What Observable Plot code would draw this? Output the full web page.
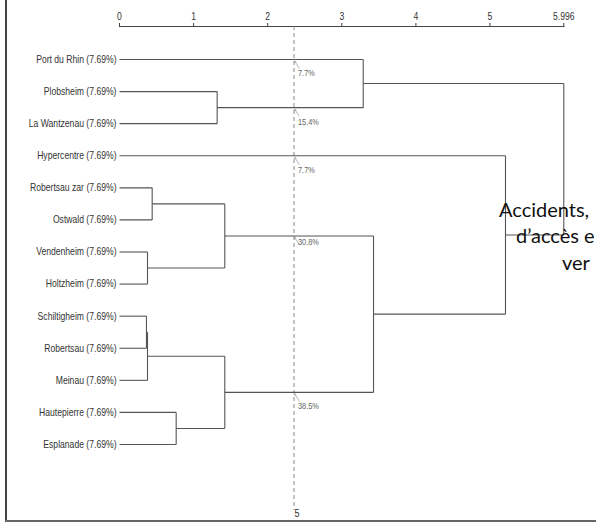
<!DOCTYPE html>
<html><head><meta charset="utf-8">
<script src="https://cdn.jsdelivr.net/npm/d3@7"></script>
<script src="https://cdn.jsdelivr.net/npm/@observablehq/plot@0.6"></script>
<style>
body{margin:0;background:#fff;}
#wrap{position:relative;width:596px;height:522px;overflow:hidden;background:#fff;}
#chart{position:absolute;left:0;top:0;}
#frameL{position:absolute;left:5px;top:0;width:2px;height:522px;background:#444;}
#frameB{position:absolute;left:5px;top:520px;width:591px;height:2px;background:#666;}
.ov{position:absolute;font-family:Lato,"Open Sans",sans-serif;font-size:20px;color:#111;white-space:nowrap;line-height:20px;}
</style></head><body>
<div id="wrap"><div id="chart"></div><div id="frameL"></div><div id="frameB"></div>
<div class="ov" style="left:499px;top:199px">Accidents,</div>
<div class="ov" style="left:516px;top:225px">d’accès e</div>
<div class="ov" style="left:562px;top:252px">ver</div>
</div>
<script>
// Leaves (top to bottom)
const leaves = ["Port du Rhin (7.69%)","Plobsheim (7.69%)","La Wantzenau (7.69%)","Hypercentre (7.69%)",
  "Robertsau zar (7.69%)","Ostwald (7.69%)","Vendenheim (7.69%)","Holtzheim (7.69%)",
  "Schiltigheim (7.69%)","Robertsau (7.69%)","Meinau (7.69%)","Hautepierre (7.69%)","Esplanade (7.69%)"];
// Merges: node id = 13 + index
const mergeLeft   = [1, 4, 6, 8, 16, 11, 14, 17, 0, 19, 3, 21];
const mergeRight  = [2, 5, 7, 9, 10, 12, 15, 18, 13, 20, 22, 23];
const mergeHeight = [1.318, 0.441, 0.378, 0.364, 0.378, 0.765, 1.421, 1.421, 3.289, 3.428, 5.209, 5.996];
// Axis ticks
const tickValues = [0, 1, 2, 3, 4, 5, 5.996];
// Truncation level and cluster annotations
const cutLevel = 2.355;
const clusterCount = 5;
const clusterNodes  = [0, 13, 3, 19, 20];
const clusterLabels = ["7.7%", "15.4%", "7.7%", "30.8%", "38.5%"];

// Build node positions
const nodeY = leaves.map((_, i) => i);
const nodeH = leaves.map(() => 0);
mergeLeft.forEach((l, k) => {
  const r = mergeRight[k];
  nodeY.push((nodeY[l] + nodeY[r]) / 2);
  nodeH.push(mergeHeight[k]);
});
const segs = [];
mergeLeft.forEach((l, k) => {
  const r = mergeRight[k], h = mergeHeight[k];
  segs.push({x1: h, x2: h, y1: nodeY[l], y2: nodeY[r]});
  segs.push({x1: nodeH[l], x2: h, y1: nodeY[l], y2: nodeY[l]});
  segs.push({x1: nodeH[r], x2: h, y1: nodeY[r], y2: nodeY[r]});
});
const leafData = leaves.map((name, i) => ({name, y: i}));
const annot = clusterNodes.map((n, i) => ({label: clusterLabels[i], y: nodeY[n], near: clusterLabels[i] === "30.8%"}));

const font = "'Liberation Sans',Arial,sans-serif";
const chart = Plot.plot({
  width: 596, height: 522,
  marginLeft: 119, marginRight: 32.7, marginTop: 26, marginBottom: 12,
  style: {fontFamily: font, fontSize: "10.5px", color: "#333", background: "transparent"},
  x: {domain: [0, 5.996], range: [119, 563.3]},
  y: {domain: [0, 12], range: [59, 444], axis: null},
  marks: [
    Plot.frame({anchor: "top", stroke: "#444", strokeWidth: 1.2}),
    Plot.axisX({anchor: "top", ticks: tickValues, tickSize: 4, tickPadding: 3, label: null,
      tickFormat: d => String(d), stroke: "#444"}),
    Plot.ruleX([cutLevel], {stroke: "#888", strokeDasharray: "4,3", strokeWidth: 1}),
    Plot.link(segs, {x1: "x1", x2: "x2", y1: "y1", y2: "y2", stroke: "#555", strokeWidth: 1.1}),
    Plot.text(leafData, {x: 0, y: "y", text: "name", textAnchor: "end", dx: -3,
      fontFamily: font, fontSize: 10.5, fill: "#333"}),
    Plot.arrow(annot, {x1: cutLevel + 0.07, y1: d => d.y + 0.27, x2: cutLevel + 0.01, y2: d => d.y + 0.05,
      stroke: "#999", strokeWidth: 0.7, headLength: 3}),
    Plot.text(annot.filter(d => !d.near), {x: cutLevel, y: "y", text: "label", textAnchor: "start", dx: 4, dy: 14,
      fontFamily: font, fontSize: 9, fill: "#666"}),
    Plot.text(annot.filter(d => d.near), {x: cutLevel, y: "y", text: "label", textAnchor: "start", dx: 4, dy: 6,
      fontFamily: font, fontSize: 9, fill: "#666"}),
    Plot.text([String(clusterCount)], {x: cutLevel, frameAnchor: "bottom", text: d => d, dx: 3, dy: 6,
      fontFamily: font, fontSize: 11, fill: "#333"})
  ]
});
// condense all chart text horizontally (narrow typeface look)
d3.select(chart).selectAll("text").each(function() {
  const t = this.getAttribute("transform") || "";
  const x = +this.getAttribute("x") || 0;
  this.setAttribute("transform", `${t} translate(${x},0) scale(0.82,1) translate(${-x},0)`);
});
document.getElementById("chart").appendChild(chart);
</script>
</body></html>
